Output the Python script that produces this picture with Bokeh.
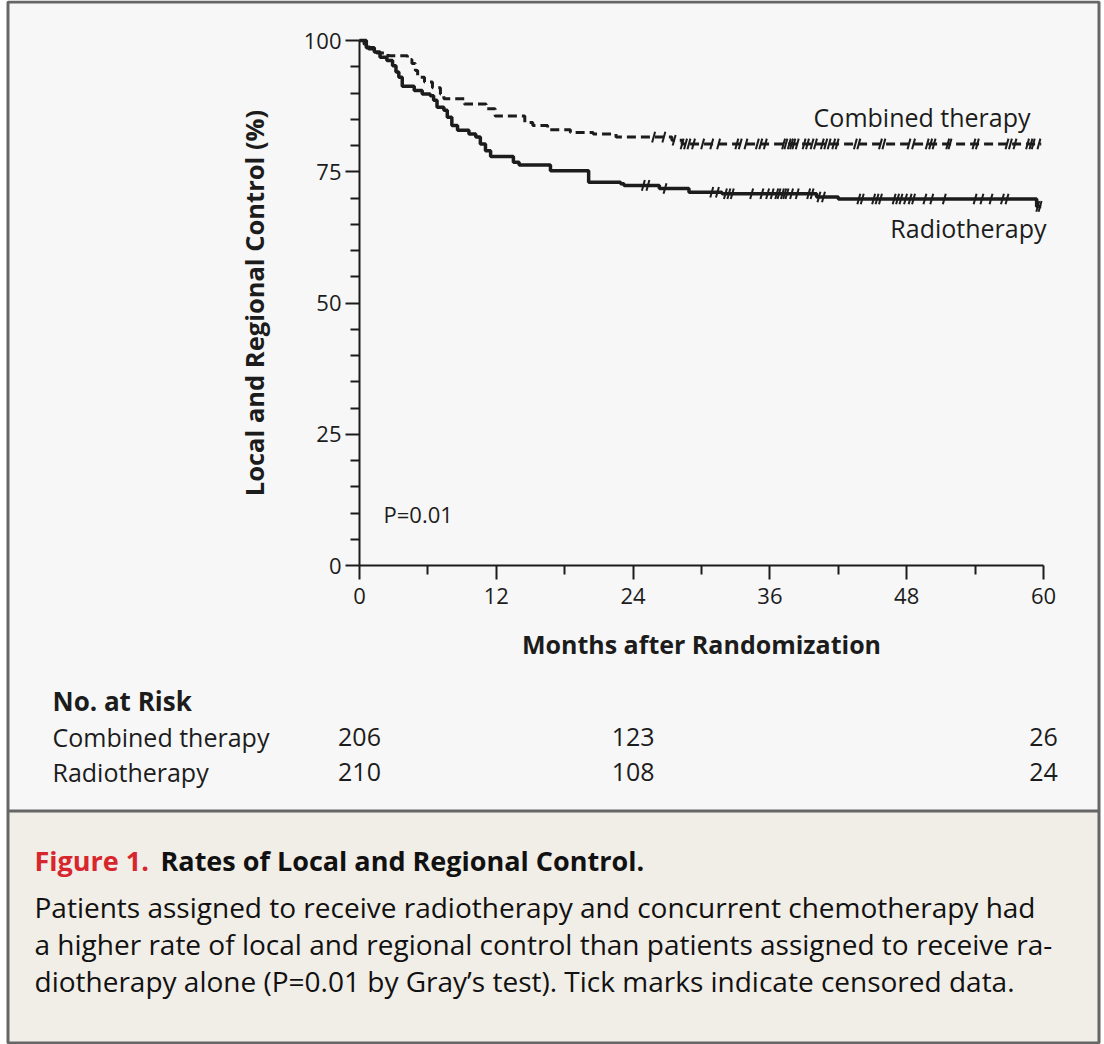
import numpy as np
from bokeh.plotting import figure
from bokeh.models import Range1d, FixedTicker
from bokeh.core.properties import value
from bokeh.embed import file_html
from bokeh.resources import INLINE

# ---------------- data ----------------
month_ticks = [0, 12, 24, 36, 48, 60]
month_minor = [6, 18, 30, 42, 54]
pct_ticks = [0, 25, 50, 75, 100]
pct_minor = [5, 10, 15, 20, 30, 35, 40, 45, 55, 60, 65, 70, 80, 85, 90, 95]

# Radiotherapy (solid) - step function (time in months, % local/regional control)
rt_time = [0, 0.6, 1.3, 1.8, 2.4, 2.9, 3.2, 3.45, 3.75, 4.8, 5.5, 6.2, 6.5, 6.8, 7.4,
           7.7, 8.1, 8.6, 9.6, 10.2, 10.6, 11.05, 11.5, 13.5, 14.0, 16.75, 20.1,
           22.9, 23.2, 26.3, 28.9, 31.8, 40.1, 42.0, 59.4, 59.8]
rt_surv = [100, 98.6, 97.8, 96.8, 96.2, 95.2, 94.0, 93.0, 91.3, 90.5, 89.8, 89.5, 88.6,
           87.3, 86.7, 85.4, 83.8, 82.9, 82.2, 81.6, 80.3, 79.0, 77.9, 76.8, 76.3,
           75.2, 73.0, 72.7, 72.4, 71.8, 71.1, 70.8, 70.2, 69.8, 68.4, 68.4]
rt_censor = [24.9, 25.3, 26.8, 30.9, 31.4, 32.1, 32.4, 32.7, 34.4, 35.3, 35.8, 36.2,
             36.6, 36.8, 37.1, 37.3, 37.5, 37.9, 38.4, 39.4, 39.7, 40.3, 40.7, 43.8,
             44.1, 45.1, 45.4, 45.7, 46.9, 47.2, 47.5, 47.9, 48.3, 48.6, 49.6, 50.2,
             51.3, 54.0, 54.6, 55.4, 56.4, 56.8, 59.5, 59.7]

# Combined therapy (dashed)
ct_time = [0, 0.4, 0.8, 1.5, 2.5, 4.2, 4.6, 4.9, 5.1, 5.7, 6.4, 7.1, 7.4, 9.2, 11.1,
           11.9, 14.5, 15.2, 16.5, 18.5, 20.5, 22.5, 27.4, 28.3, 59.8]
ct_surv = [100, 99.3, 98.4, 97.6, 97.1, 96.4, 95.6, 94.3, 93.0, 92.1, 91.0, 89.8, 88.9,
           87.9, 87.0, 85.6, 84.4, 83.8, 83.0, 82.5, 82.2, 81.6, 81.0, 80.3, 80.3]
ct_censor = [25.8, 26.7, 27.6, 28.3, 28.6, 28.9, 29.3, 30.1, 30.9, 31.5, 33.1, 33.4,
             33.9, 34.9, 35.2, 35.6, 37.2, 37.4, 37.7, 37.9, 38.1, 38.4, 39.0, 39.3,
             39.7, 40.0, 40.6, 40.9, 41.2, 41.6, 41.9, 43.5, 43.8, 45.7, 46.0, 48.2,
             48.6, 49.8, 50.1, 50.4, 51.6, 51.8, 53.9, 54.2, 56.8, 57.1, 57.5, 58.6,
             58.9, 59.1, 59.6]

risk_months = [0, 24, 60]
risk_combined = [206, 123, 26]
risk_radio = [210, 108, 24]
group_names = ["Combined therapy", "Radiotherapy"]


def step_lookup(times, surv, t):
    idx = np.searchsorted(np.array(times), t, side="right") - 1
    return [surv[i] for i in idx]


# ---------------- geometry (page pixels -> data) ----------------
W, H = 1104, 1044
OFF = 0                   # page px of canvas origin
X0, SX = 359.0, 11.4      # page px of month 0, px per month
Y0, SY = 565.0, 5.25      # page px of 0 %, px per %


def X(px):
    return (px - X0) / SX


def Y(py):
    return (Y0 - py) / SY


FONT = value("Open Sans")
INK = "#1c1c1c"

p = figure(width=W, height=H, output_backend="svg", toolbar_location=None,
           x_range=Range1d(X(OFF), X(OFF + W)), y_range=Range1d(Y(OFF + H), Y(OFF)),
           min_border=0, min_border_left=0, min_border_right=0,
           min_border_top=0, min_border_bottom=0)
p.title.visible = False
p.outline_line_color = None
p.background_fill_color = "#ffffff"
p.border_fill_color = "#ffffff"
p.grid.visible = False

# panel backgrounds + frame
p.quad(left=[X(7.5)], right=[X(1098.5)], top=[Y(1.5)], bottom=[Y(810.5)],
       fill_color="#f7f7f7", line_color=None)
p.quad(left=[X(7.5)], right=[X(1098.5)], top=[Y(810.5)], bottom=[Y(1042.5)],
       fill_color="#f1ede7", line_color=None)
p.quad(left=[X(7.5)], right=[X(1098.5)], top=[Y(1.5)], bottom=[Y(1042.5)],
       fill_color=None, line_color="#666666", line_width=3)
p.segment(x0=[X(7.5)], x1=[X(1098.5)], y0=[Y(810.5)], y1=[Y(810.5)],
          line_color="#666666", line_width=3)

# curves
p.step(rt_time, rt_surv, mode="after", line_color=INK, line_width=3.5)
p.step(ct_time, ct_surv, mode="after", line_color=INK, line_width=3,
       line_dash="9 5")

p.scatter(rt_censor, step_lookup(rt_time, rt_surv, rt_censor), marker="dash",
          size=11, angle=1.3, line_color=INK, line_width=2)
p.scatter(ct_censor, step_lookup(ct_time, ct_surv, ct_censor), marker="dash",
          size=11, angle=1.3, line_color=INK, line_width=2)

# axes
for ax in (p.xaxis[0], p.yaxis[0]):
    ax.fixed_location = 0
    ax.axis_line_width = 2
    ax.axis_line_color = INK
    ax.major_tick_line_width = 2
    ax.minor_tick_line_width = 2
    ax.major_tick_line_color = INK
    ax.minor_tick_line_color = INK
    ax.major_tick_in = 0
    ax.minor_tick_in = 0
    ax.major_tick_out = 14
    ax.minor_tick_out = 9
    ax.major_label_text_font = "Open Sans"
    ax.major_label_text_font_size = "22px"
    ax.major_label_text_color = INK
    ax.axis_label_text_font = "Open Sans"
    ax.axis_label_text_font_style = "bold"
    ax.axis_label_text_color = INK

p.xaxis.axis_label_text_font_size = "25px"
p.yaxis.axis_label_text_font_size = "25.5px"
p.xaxis.bounds = (0, 60)
p.yaxis.bounds = (0, 100)
p.xaxis.ticker = FixedTicker(ticks=month_ticks, minor_ticks=month_minor)
p.yaxis.ticker = FixedTicker(ticks=pct_ticks, minor_ticks=pct_minor)
p.xaxis.major_label_standoff = 8
p.yaxis.major_label_standoff = 4
p.xaxis.axis_label = "Months after Randomization"
p.yaxis.axis_label = "Local and Regional Control (%)"
p.xaxis.axis_label_standoff = 20
p.yaxis.axis_label_standoff = 30

# curve labels
p.text(x=[X(1030)], y=[Y(116)], text=[group_names[0]], text_font=FONT,
       text_font_size="25px", text_align="right", text_baseline="middle",
       text_color=INK)
p.text(x=[X(1046)], y=[Y(227)], text=[group_names[1]], text_font=FONT,
       text_font_size="25px", text_align="right", text_baseline="middle",
       text_color=INK)
p.text(x=[X(383)], y=[Y(513)], text=["P=0.01"], text_font=FONT,
       text_font_size="22px", text_align="left", text_baseline="middle",
       text_color=INK)

# number at risk
p.text(x=[X(52)], y=[Y(700)], text=["No. at Risk"], text_font=FONT,
       text_font_size="26px", text_font_style="bold", text_baseline="middle",
       text_color=INK)
p.text(x=[X(52), X(52)], y=[Y(736), Y(771)], text=group_names, text_font=FONT,
       text_font_size="25px", text_baseline="middle", text_color=INK)
p.text(x=risk_months, y=[Y(736)] * 3, text=[str(v) for v in risk_combined],
       text_font=FONT, text_font_size="25px", text_align="center",
       text_baseline="middle", text_color=INK)
p.text(x=risk_months, y=[Y(771)] * 3, text=[str(v) for v in risk_radio],
       text_font=FONT, text_font_size="25px", text_align="center",
       text_baseline="middle", text_color=INK)

# caption
p.text(x=[X(34)], y=[Y(860)], text=["Figure 1."], text_font=FONT,
       text_font_size="27px", text_font_style="bold", text_baseline="middle",
       text_color="#d7262d")
p.text(x=[X(160)], y=[Y(860)], text=["Rates of Local and Regional Control."],
       text_font=FONT, text_font_size="27px", text_font_style="bold",
       text_baseline="middle", text_color="#111111")
caption_lines = [
    "Patients assigned to receive radiotherapy and concurrent chemotherapy had",
    "a higher rate of local and regional control than patients assigned to receive ra-",
    "diotherapy alone (P=0.01 by Gray\u2019s test). Tick marks indicate censored data.",
]
p.text(x=[X(34)] * 3, y=[Y(906), Y(943), Y(980)], text=caption_lines,
       text_font=FONT, text_font_size="28px", text_baseline="middle",
       text_color="#111111")

open("out.html", "w").write(file_html(p, INLINE))
